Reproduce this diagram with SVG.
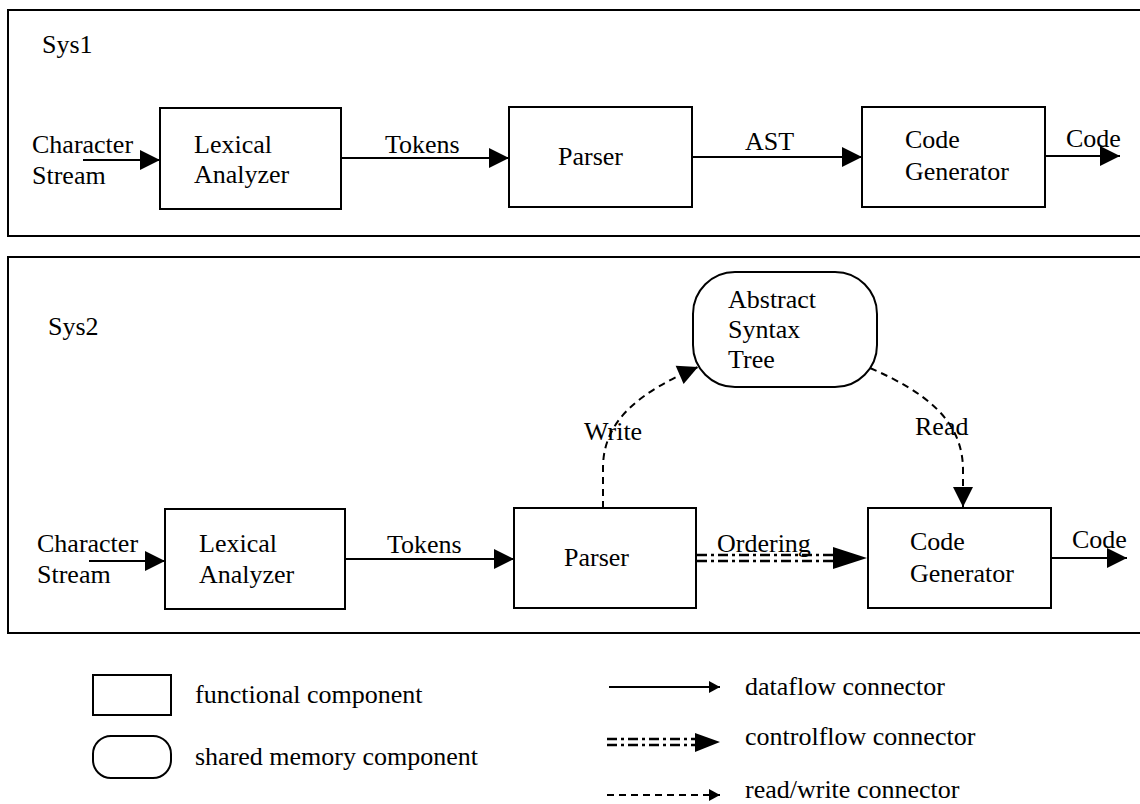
<svg xmlns="http://www.w3.org/2000/svg" width="1140" height="804" viewBox="0 0 1140 804">
<style>
  text { font-family: "Liberation Serif", "Times New Roman", serif; font-size: 26px; fill: #000; }
  .frame { fill: none; stroke: #000; stroke-width: 2; }
  .box { fill: #fff; stroke: #000; stroke-width: 2; }
  .flow { fill: none; stroke: #000; stroke-width: 2; }
  .rw { fill: none; stroke: #000; stroke-width: 2; stroke-dasharray: 7 5; }
  .ctrl { fill: none; stroke: #000; stroke-width: 2.5; stroke-dasharray: 10 4 3 4; }
</style>
<defs>
  <marker id="ah" markerUnits="userSpaceOnUse" markerWidth="22" markerHeight="22" refX="20" refY="10" orient="auto" overflow="visible">
    <path d="M0,0 L20,10 L0,20 Z" fill="#000"/>
  </marker>
  <marker id="ahs" markerUnits="userSpaceOnUse" markerWidth="14" markerHeight="14" refX="11" refY="6" orient="auto" overflow="visible">
    <path d="M0,0 L11,6 L0,12 Z" fill="#000"/>
  </marker>
</defs>
<rect width="1140" height="804" fill="#fff"/>

<!-- frames -->
<g id="sys1-frame">
  <rect class="frame" x="8" y="10" width="1150" height="226"/>
  <text x="42" y="53">Sys1</text>
</g>
<g id="sys2-frame">
  <rect class="frame" x="8" y="257" width="1150" height="376"/>
  <text x="48" y="335">Sys2</text>
</g>

<!-- Sys1 nodes -->
<g id="s1-lexer">
  <rect class="box" x="160" y="108" width="181" height="101"/>
  <text x="194" y="153">Lexical</text>
  <text x="194" y="183">Analyzer</text>
</g>
<g id="s1-parser">
  <rect class="box" x="509" y="107" width="183" height="100"/>
  <text x="558" y="165">Parser</text>
</g>
<g id="s1-codegen">
  <rect class="box" x="862" y="107" width="183" height="100"/>
  <text x="905" y="148">Code</text>
  <text x="905" y="180">Generator</text>
</g>

<!-- Sys2 nodes -->
<g id="s2-lexer">
  <rect class="box" x="165" y="509" width="180" height="100"/>
  <text x="199" y="552">Lexical</text>
  <text x="199" y="583">Analyzer</text>
</g>
<g id="s2-parser">
  <rect class="box" x="514" y="508" width="182" height="100"/>
  <text x="564" y="566">Parser</text>
</g>
<g id="s2-ast">
  <rect class="box" x="693" y="272" width="184" height="115" rx="42" ry="42"/>
  <text x="728" y="308">Abstract</text>
  <text x="728" y="338">Syntax</text>
  <text x="728" y="368">Tree</text>
</g>
<g id="s2-codegen">
  <rect class="box" x="868" y="508" width="183" height="100"/>
  <text x="910" y="550">Code</text>
  <text x="910" y="582">Generator</text>
</g>

<!-- connectors -->
<g id="connectors">
  <!-- Sys1 -->
  <line class="flow" x1="83" y1="160" x2="160" y2="160" marker-end="url(#ah)"/>
  <line class="flow" x1="341" y1="158" x2="509" y2="158" marker-end="url(#ah)"/>
  <line class="flow" x1="692" y1="157" x2="862" y2="157" marker-end="url(#ah)"/>
  <line class="flow" x1="1045" y1="156" x2="1120" y2="156" marker-end="url(#ah)"/>
  <!-- Sys2 -->
  <line class="flow" x1="89" y1="561" x2="165" y2="561" marker-end="url(#ah)"/>
  <line class="flow" x1="345" y1="559" x2="514" y2="559" marker-end="url(#ah)"/>
  <line class="flow" x1="1051" y1="558" x2="1127" y2="558" marker-end="url(#ah)"/>
  <path class="rw" d="M603,508 L603,468 C603,420 640,392 698,367" marker-end="url(#ah)"/>
  <path class="rw" d="M870,368 C925,392 963,420 963,470 L963,507" marker-end="url(#ah)"/>
  <g id="ordering">
    <line class="ctrl" x1="697" y1="555" x2="845" y2="555"/>
    <line class="ctrl" x1="697" y1="561" x2="845" y2="561"/>
    <path d="M833,547 L867,558 L833,569 Z" fill="#000"/>
  </g>
</g>

<!-- connector labels -->
<g id="connector-labels">
  <text x="32" y="153">Character</text>
  <text x="32" y="184">Stream</text>
  <text x="385" y="153">Tokens</text>
  <text x="745" y="150">AST</text>
  <text x="1066" y="147">Code</text>
  <text x="37" y="552">Character</text>
  <text x="37" y="583">Stream</text>
  <text x="387" y="553">Tokens</text>
  <text x="584" y="440">Write</text>
  <text x="915" y="435">Read</text>
  <text x="717" y="552">Ordering</text>
  <text x="1072" y="548">Code</text>
</g>

<!-- legend -->
<g id="legend">
  <rect class="box" x="93" y="675" width="78" height="40"/>
  <text x="195" y="703">functional component</text>
  <rect class="box" x="93" y="736" width="78" height="42" rx="18" ry="18"/>
  <text x="195" y="765">shared memory component</text>
  <line class="flow" x1="609" y1="687" x2="720" y2="687" marker-end="url(#ahs)"/>
  <text x="745" y="695">dataflow connector</text>
  <line class="ctrl" x1="607" y1="739" x2="697" y2="739"/>
  <line class="ctrl" x1="607" y1="745" x2="697" y2="745"/>
  <path d="M695,733 L720,742 L695,752 Z" fill="#000"/>
  <text x="745" y="745">controlflow connector</text>
  <line class="rw" x1="607" y1="795" x2="720" y2="795" marker-end="url(#ahs)"/>
  <text x="745" y="798">read/write connector</text>
</g>
</svg>
